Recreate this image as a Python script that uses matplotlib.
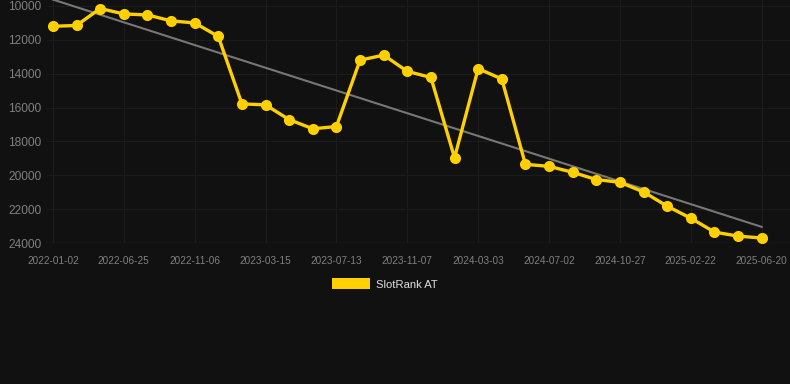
import numpy as np
import matplotlib
matplotlib.use('Agg')
import matplotlib.pyplot as plt
from matplotlib.patches import Patch

# ranks, one point per snapshot
ranks = [11200, 11150, 10150, 10470, 10530, 10880, 11000, 11800, 15780, 15840,
         16710, 17250, 17120, 13200, 12900, 13860, 14220, 18960, 13700, 14310,
         19350, 19470, 19820, 20250, 20410, 20980, 21820, 22530, 23350, 23590,
         23700]
tick_labels = ['2022-01-02', '2022-06-25', '2022-11-06', '2023-03-15', '2023-07-13',
               '2023-11-07', '2024-03-03', '2024-07-02', '2024-10-27', '2025-02-22',
               '2025-06-20']
y_ticks = [10000, 12000, 14000, 16000, 18000, 20000, 22000, 24000]

bg = '#111111'
yellow = '#ffd000'

x = np.arange(len(ranks))
coef = np.polyfit(x, ranks, 1)
trend = np.polyval(coef, x)

plt.rcParams['font.family'] = ['Liberation Sans', 'DejaVu Sans']

fig = plt.figure(figsize=(7.9, 3.84), dpi=100, facecolor=bg)
ax = fig.add_axes([0.0595, 0.367, 0.9405, 0.633], facecolor=bg)

ax.plot(x, trend, color='#777777', lw=1.5, zorder=2)
ax.plot(x, ranks, color=yellow, lw=2.4, marker='o', ms=8,
        markeredgewidth=0, zorder=3, label='SlotRank AT')

ax.set_xlim(-0.25, 31.2)
ax.set_ylim(24000, 9647)
ax.set_yticks(y_ticks)
ax.set_yticklabels([str(v) for v in y_ticks])
ax.set_xticks(x[::3])
ax.set_xticklabels(tick_labels)

ax.grid(True, color='#1c1c1c', lw=0.8)
ax.set_axisbelow(True)
for s in ax.spines.values():
    s.set_visible(False)
ax.tick_params(axis='both', length=0, colors='#808080')
ax.tick_params(axis='y', labelsize=8.6, pad=4)
ax.tick_params(axis='x', labelsize=7.2, pad=9)
ax.axhline(24000, color='#262626', lw=1, zorder=1)

leg = fig.legend(handles=[Patch(facecolor=yellow, edgecolor='none', label='SlotRank AT')],
                 loc='center', bbox_to_anchor=(0.487, 1 - 284 / 384), frameon=False,
                 fontsize=8.1, handlelength=3.4, handleheight=1.1, handletextpad=0.5)
for t in leg.get_texts():
    t.set_color('#dddddd')

fig.savefig('out.png', dpi=100, facecolor=bg)
